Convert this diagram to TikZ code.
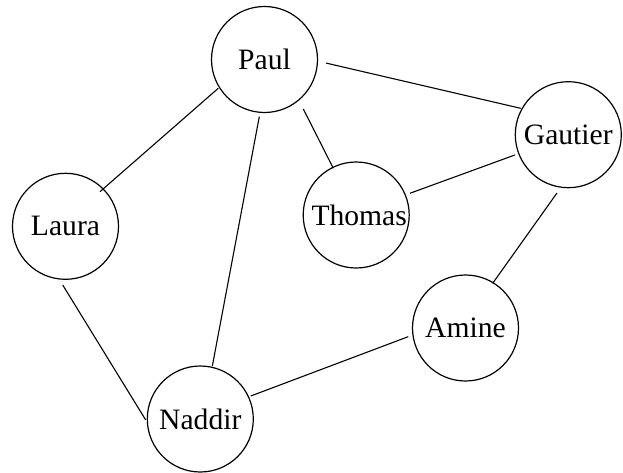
\documentclass[tikz,border=0pt]{standalone}
\usepackage{fontspec}
\setmainfont{Liberation Serif}
\begin{document}
\begin{tikzpicture}[x=1pt,y=1pt,
  person/.style={circle, draw, line width=1.2pt, minimum size=106pt, inner sep=0pt,
    font=\fontsize{29.6}{34}\selectfont},
  link/.style={line width=1.1pt}]
\useasboundingbox (0,0) rectangle (623,472);
% people
\node[person] (Paul)    at (264.5,412.5) {Paul};
\node[person] (Gautier) at (568.3,337.3) {Gautier};
\node[person] (Laura)   at (65.5,245.7)  {Laura};
\node[person] (Thomas)  at (356.2,257)   {\hspace*{6pt}Thomas};
\node[person] (Amine)   at (465.5,144)   {Amine};
\node[person] (Naddir)  at (200.3,53)    {Naddir};
% acquaintances
\draw[link] ([shift={(211.9:54.4)}]Paul.center)  -- ([shift={(45.1:48.9)}]Laura.center);
\draw[link] ([shift={(264.8:57.4)}]Paul.center)  -- ([shift={(77.2:54.3)}]Naddir.center);
\draw[link] ([shift={(308.1:62.9)}]Paul.center)  -- ([shift={(116.1:52)}]Thomas.center);
\draw[link] ([shift={(-3.3:61.6)}]Paul.center)   -- ([shift={(151:54.4)}]Gautier.center);
\draw[link] ([shift={(22:58)}]Thomas.center)     -- ([shift={(200.8:57)}]Gautier.center);
\draw[link] ([shift={(259:59.4)}]Gautier.center) -- ([shift={(58.7:52.3)}]Amine.center);
\draw[link] ([shift={(188.6:57.9)}]Amine.center) -- ([shift={(24.5:55.4)}]Naddir.center);
\draw[link] ([shift={(267.3:58.8)}]Laura.center) -- ([shift={(181:54.6)}]Naddir.center);
\end{tikzpicture}
\end{document}
